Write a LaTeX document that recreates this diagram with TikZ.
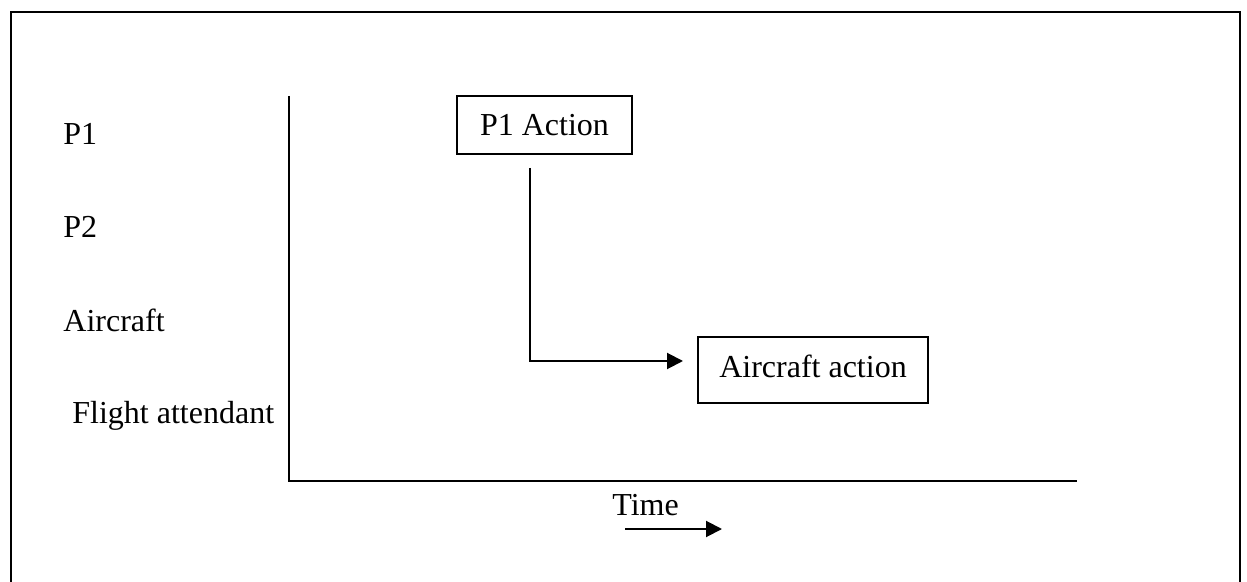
\documentclass[tikz,border=0pt]{standalone}
\usepackage{fontspec}
\setmainfont{Liberation Serif}
\usetikzlibrary{arrows.meta}
\begin{document}
\begin{tikzpicture}[x=0.5pt,y=-0.5pt,
  line/.style={line width=1pt,black},
  lane/.style={anchor=base west,inner sep=0pt,font=\fontsize{16}{19}\selectfont},
  actbox/.style={draw,line width=1pt,inner sep=0pt,font=\fontsize{16}{19}\selectfont},
  tip/.style={-{Triangle[length=8pt,width=8pt]}}]
  \useasboundingbox (0,0) rectangle (1247,582);
  \clip (0,0) rectangle (1247,582);
  % page frame, running off the bottom
  \draw[line] (11,12) rectangle (1240,640);
  % axes
  \coordinate (ytop) at (289,96);
  \coordinate (origin) at (289,481);
  \coordinate (xend) at (1077,481);
  \draw[line] (ytop) -- (origin) -- (xend);
  % swim lane labels
  \node[lane] (l1) at (63,145) {P1};
  \node[lane] (l2) at (63,238) {P2};
  \node[lane] (l3) at (63,332) {Aircraft};
  \node[lane] (l4) at (72,423) {Flight attendant};
  % actions
  \node[actbox,minimum width=87.5pt,minimum height=29pt] (pa) at (544.5,125) {P1 Action};
  \node[actbox,minimum width=115pt,minimum height=33pt,text depth=4pt] (aa) at (813,370) {Aircraft action};
  \coordinate (pastart) at (530,168);
  \coordinate (aaend) at (683,361);
  \draw[line,tip] (pastart) |- (aaend);
  % time direction
  \node[lane] (time) at (612,515) {Time};
  \coordinate (t0) at (625,529);
  \coordinate (t1) at (722,529);
  \draw[line,tip] (t0) -- (t1);
\end{tikzpicture}
\end{document}
